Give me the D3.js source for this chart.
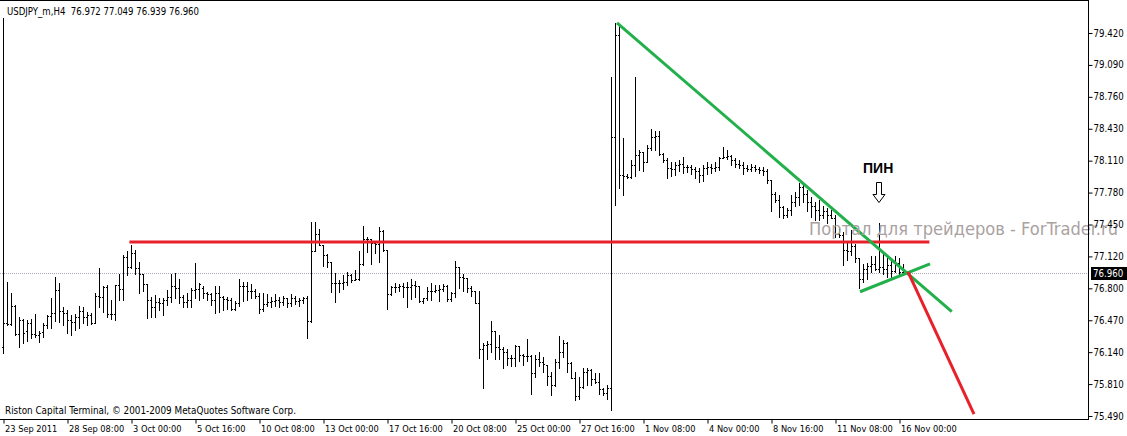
<!DOCTYPE html>
<html><head><meta charset="utf-8">
<script src="https://cdn.jsdelivr.net/npm/d3@7/dist/d3.min.js"></script>
<style>body{margin:0;background:#fff}svg{display:block}</style>
</head><body>
<svg id="chart" width="1127" height="436"></svg>
<script>
const titleText = "USDJPY_m,H4  76.972 77.049 76.939 76.960";
const copyrightText = "Riston Capital Terminal, \u00A9 2001-2009 MetaQuotes Software Corp.";
const watermarkText = "Портал для трейдеров - ForTrader.ru";
const pinText = "ПИН";

const openP = [76.20,76.44,76.43,76.62,76.33,76.47,76.36,76.44,76.33,76.32,76.35,76.42,76.52,76.55,76.78,76.57,76.55,76.47,76.45,76.51,
76.57,76.51,76.53,76.44,76.72,76.71,76.81,76.54,76.54,76.83,76.79,77.12,77.02,77.16,77.01,76.95,76.84,76.68,76.61,76.66,
76.65,76.68,76.71,76.82,76.80,76.71,76.66,76.68,76.78,76.79,76.80,76.75,76.74,76.68,76.75,76.71,76.69,76.68,76.59,76.65,
76.82,76.82,76.77,76.77,76.72,76.59,76.64,76.66,76.67,76.68,76.66,76.70,76.65,76.70,76.67,76.68,76.70,76.46,77.18,77.36,
77.24,77.14,77.07,76.85,76.85,76.85,76.87,76.94,76.89,76.90,77.05,77.31,77.31,77.27,77.26,77.39,77.19,76.74,76.81,76.81,
76.82,76.81,76.81,76.83,76.82,76.67,76.70,76.77,76.77,76.78,76.79,76.82,76.69,76.75,77.02,76.92,76.91,76.80,76.77,76.65,
76.18,76.22,76.23,76.36,76.20,76.18,76.15,76.09,76.09,76.21,76.12,76.11,76.11,75.93,76.08,76.04,76.01,75.90,75.81,76.04,
76.15,76.24,76.03,75.88,75.70,75.79,75.94,75.96,75.87,75.84,75.77,75.73,75.78,78.35,79.40,77.96,77.95,77.94,78.07,78.17,
78.20,78.10,78.24,78.35,78.36,78.18,78.12,78.03,78.02,78.07,78.08,78.05,78.04,78.02,78.00,77.96,78.03,78.05,78.03,78.04,
78.14,78.15,78.16,78.12,78.08,78.07,78.03,78.02,78.05,78.02,78.01,78.00,77.91,77.77,77.71,77.63,77.55,77.60,77.69,77.74,
77.84,77.77,77.69,77.64,77.60,77.55,77.59,77.55,77.52,77.36,77.35,77.19,77.18,77.23,77.11,76.90,77.00,77.03,77.05,77.00,
77.02,77.00,77.04,76.98,77.06,76.972];
const highP = [79.57,76.87,76.75,76.63,76.51,76.49,76.47,76.49,76.54,76.36,76.44,76.53,76.70,76.92,76.85,76.61,76.58,76.53,76.54,76.62,
76.61,76.56,76.55,76.75,77.01,76.82,76.83,76.68,76.83,76.95,77.14,77.18,77.24,77.19,77.07,76.95,76.84,76.71,76.73,76.70,
76.70,76.78,76.95,76.96,76.90,76.73,76.75,76.80,77.06,76.85,76.82,76.76,76.75,76.82,76.82,76.72,76.71,76.70,76.67,76.90,
76.87,76.87,76.84,76.79,76.75,76.75,76.74,76.71,76.74,76.71,76.72,76.70,76.74,76.72,76.70,76.71,76.72,77.48,77.48,77.41,
77.24,77.15,77.07,76.96,76.89,76.94,76.97,76.95,76.99,77.18,77.44,77.33,77.31,77.28,77.43,77.40,77.19,76.82,76.85,76.84,
76.85,76.86,76.90,76.88,76.82,76.70,76.81,76.85,76.83,76.83,76.84,76.83,76.76,77.08,77.02,76.95,76.91,76.82,76.77,76.77,
76.24,76.26,76.46,76.36,76.32,76.20,76.18,76.12,76.22,76.21,76.13,76.28,76.12,76.12,76.15,76.10,76.01,75.94,76.08,76.31,
76.27,76.25,76.04,75.94,75.89,75.98,75.98,75.97,75.93,75.93,75.78,75.81,78.97,79.52,79.50,78.34,77.97,78.12,78.97,78.22,
78.20,78.27,78.44,78.41,78.41,78.19,78.14,78.10,78.10,78.12,78.15,78.07,78.07,78.05,78.03,78.07,78.10,78.08,78.10,78.15,
78.25,78.22,78.17,78.14,78.12,78.10,78.07,78.08,78.07,78.05,78.05,78.02,77.91,77.79,77.76,77.64,77.62,77.76,77.79,77.88,
77.86,77.81,77.74,77.69,77.71,77.64,77.62,77.60,77.55,77.43,77.38,77.28,77.40,77.25,77.11,77.05,77.06,77.13,77.13,77.47,
77.16,77.11,77.09,77.13,77.11,77.049];
const lowP = [76.14,76.42,76.42,76.32,76.20,76.24,76.26,76.29,76.30,76.25,76.30,76.39,76.39,76.46,76.45,76.42,76.34,76.32,76.37,76.39,
76.44,76.42,76.43,76.44,76.61,76.56,76.51,76.49,76.47,76.68,76.68,76.94,77.01,76.95,76.75,76.77,76.50,76.51,76.51,76.58,
76.53,76.63,76.66,76.70,76.65,76.61,76.61,76.61,76.70,76.68,76.70,76.68,76.63,76.55,76.56,76.58,76.59,76.58,76.58,76.62,
76.67,76.68,76.70,76.70,76.55,76.57,76.62,76.61,76.62,76.61,76.63,76.61,76.62,76.64,76.62,76.65,76.29,76.45,77.18,77.24,
77.03,77.02,76.76,76.66,76.76,76.79,76.83,76.87,76.89,76.89,77.04,77.17,77.05,77.16,77.07,77.18,76.59,76.73,76.76,76.77,
76.71,76.61,76.69,76.71,76.66,76.65,76.68,76.68,76.76,76.67,76.77,76.67,76.67,76.71,76.80,76.77,76.76,76.72,76.65,76.09,
75.78,76.07,76.15,76.07,76.07,75.98,76.01,76.00,76.00,76.05,76.01,76.05,75.72,75.89,76.00,75.94,75.81,75.71,75.80,75.98,
76.10,75.94,75.88,75.65,75.66,75.78,75.81,75.81,75.83,75.72,75.71,75.66,75.55,77.66,77.83,77.76,77.93,77.93,77.95,78.01,
78.00,78.10,78.22,78.22,78.17,78.10,77.93,77.95,77.96,78.00,77.98,77.99,77.97,77.93,77.89,77.90,77.97,77.98,78.00,78.01,
78.14,78.13,78.07,78.05,78.03,77.97,78.00,78.00,78.00,77.98,77.96,77.88,77.59,77.69,77.53,77.52,77.53,77.55,77.64,77.66,
77.69,77.59,77.53,77.50,77.50,77.52,77.47,77.52,77.33,77.33,77.04,77.09,77.14,77.07,76.80,76.87,76.90,76.97,76.99,76.97,
76.95,76.92,76.92,76.97,76.95,76.939];
const closeP = [76.44,76.43,76.62,76.33,76.47,76.34,76.44,76.33,76.32,76.34,76.42,76.52,76.55,76.78,76.57,76.55,76.47,76.45,76.51,76.57,
76.51,76.53,76.44,76.72,76.71,76.81,76.54,76.54,76.83,76.79,77.12,77.02,77.16,77.01,76.95,76.84,76.68,76.61,76.66,76.65,
76.68,76.71,76.82,76.80,76.71,76.66,76.68,76.78,76.79,76.84,76.75,76.74,76.68,76.75,76.71,76.69,76.68,76.59,76.65,76.82,
76.82,76.77,76.77,76.72,76.59,76.64,76.66,76.67,76.68,76.66,76.70,76.65,76.70,76.67,76.68,76.70,76.46,77.18,77.36,77.24,
77.14,77.07,76.85,76.85,76.85,76.87,76.94,76.89,76.90,77.05,77.31,77.31,77.27,77.26,77.39,77.19,76.74,76.81,76.81,76.82,
76.81,76.81,76.83,76.82,76.67,76.70,76.77,76.77,76.78,76.79,76.82,76.69,76.75,77.02,76.92,76.91,76.80,76.77,76.65,76.18,
76.22,76.23,76.36,76.20,76.18,76.15,76.09,76.09,76.21,76.12,76.11,76.11,75.93,76.08,76.04,76.02,75.90,75.81,76.04,76.15,
76.24,76.03,75.88,75.70,75.79,75.94,75.96,75.87,75.84,75.77,75.73,75.78,78.35,79.40,77.96,77.95,77.94,78.07,78.17,78.20,
78.10,78.24,78.35,78.36,78.18,78.12,78.03,78.02,78.07,78.08,78.05,78.04,78.02,78.00,77.96,78.03,78.05,78.03,78.04,78.14,
78.15,78.16,78.12,78.08,78.07,78.03,78.02,78.05,78.02,78.01,78.00,77.91,77.77,77.71,77.63,77.55,77.60,77.69,77.74,77.84,
77.77,77.69,77.64,77.60,77.55,77.59,77.55,77.52,77.36,77.35,77.19,77.18,77.23,77.11,76.90,77.00,77.03,77.05,77.00,77.02,
77.00,77.04,76.98,77.06,76.97,76.960];

const xTickIndex = [0,16,32,48,64,80,96,112,128,144,160,176,192,208,224];
const xTickLabels = ["23 Sep 2011","28 Sep 08:00","3 Oct 00:00","5 Oct 16:00","10 Oct 08:00","13 Oct 00:00","17 Oct 16:00",
  "20 Oct 08:00","25 Oct 00:00","27 Oct 16:00","1 Nov 08:00","4 Nov 00:00","8 Nov 16:00","11 Nov 08:00","16 Nov 00:00"];
const yTickValues = [75.49,75.8175,76.145,76.4725,76.80,77.1275,77.455,77.7825,78.11,78.4375,78.765,79.0925,79.42];
const yTickLabels = ["75.490","75.810","76.140","76.470","76.800","77.120","77.450","77.780","78.110","78.430","78.760","79.090","79.420"];
const lastPrice = 76.960;

// drawn objects: [bar index, price] pairs
const resistanceLine = [[31.6,77.275],[231.6,77.275]];
const trendDown = [[153.5,79.525],[237.2,76.56]];
const trendUp = [[214.25,76.765],[231.75,77.05]];
const forecastLine = [[226.25,76.968],[242.75,75.51]];
const pinAt = [219, 77.95];

const W = 1127, H = 436, plotR = 1088, plotB = 419;
const svg = d3.select("#chart");
const x = d3.scaleLinear().domain([0, 271.25]).range([3, plotR]);
const y = d3.scaleLinear().domain([75.49, 79.42]).range([416, 33]);
const font = "'DejaVu Sans Condensed','DejaVu Sans',sans-serif";

svg.append("rect").attr("width", W).attr("height", H).attr("fill", "#fff");

// current price dotted line
svg.append("line").attr("x1", 0).attr("x2", plotR).attr("y1", Math.round(y(lastPrice)) + 0.5).attr("y2", Math.round(y(lastPrice)) + 0.5)
  .attr("stroke", "#a8a8b4").attr("stroke-dasharray", "1,1");

// bars
const bars = svg.append("g").attr("shape-rendering", "crispEdges").attr("fill", "#000");
d3.range(openP.length).forEach(i => {
  const xi = Math.round(x(i));
  const yh = Math.round(y(highP[i])), yl = Math.round(y(lowP[i]));
  bars.append("rect").attr("x", xi).attr("y", yh).attr("width", 1).attr("height", Math.max(1, yl - yh + 1));
  bars.append("rect").attr("x", xi - 1).attr("y", Math.round(y(openP[i]))).attr("width", 1).attr("height", 1);
  bars.append("rect").attr("x", xi + 1).attr("y", Math.round(y(closeP[i]))).attr("width", 1).attr("height", 1);
});

// drawn lines
function seg(pts, color) {
  svg.append("line").attr("x1", x(pts[0][0])).attr("y1", y(pts[0][1])).attr("x2", x(pts[1][0])).attr("y2", y(pts[1][1]))
    .attr("stroke", color).attr("stroke-width", 3);
}
seg(resistanceLine, "#e8202a");
seg(trendDown, "#22b04a");
seg(trendUp, "#22b04a");
seg(forecastLine, "#e8202a");

// pin label and arrow
const px = x(pinAt[0]);
svg.append("text").attr("x", px - 16).attr("y", 173).attr("font-family", "'Liberation Sans',Arial,sans-serif")
  .attr("font-weight", "bold").attr("font-size", 14).attr("fill", "#000").text(pinText);
svg.append("path").attr("d", `M${px-2.5},182.5 h5 v12 h3.5 l-6,8 l-6,-8 h3.5 z`)
  .attr("fill", "#fff").attr("stroke", "#000").attr("stroke-width", 1);

// watermark
svg.append("text").attr("x", 809).attr("y", 235).attr("font-family", font).attr("font-size", 18)
  .attr("fill", "#aaa2a2").attr("textLength", 309).attr("lengthAdjust", "spacingAndGlyphs").text(watermarkText);

// frame
svg.append("g").attr("shape-rendering", "crispEdges").call(g => {
  g.append("line").attr("x1", plotR + 0.5).attr("x2", plotR + 0.5).attr("y1", 0).attr("y2", plotB + 0.5).attr("stroke", "#000");
  g.append("line").attr("x1", 0).attr("x2", plotR + 0.5).attr("y1", plotB + 0.5).attr("y2", plotB + 0.5).attr("stroke", "#000");
  g.append("line").attr("x1", 0).attr("x2", plotR + 0.5).attr("y1", 0.5).attr("y2", 0.5).attr("stroke", "#000");
});

// y axis
const yAxis = d3.axisRight(y).tickValues(yTickValues).tickSize(4).tickPadding(1)
  .tickFormat((d, i) => yTickLabels[i]);
const ya = svg.append("g").attr("transform", `translate(${plotR + 0.5},0)`).call(yAxis);
ya.select(".domain").remove();
ya.selectAll("text").attr("font-family", font).attr("font-size", 9.6).attr("fill", "#000");
ya.selectAll("line").attr("stroke", "#000");

// x axis
const xAxis = d3.axisBottom(x).tickValues(xTickIndex).tickSize(4).tickFormat((d, i) => xTickLabels[i]);
const xa = svg.append("g").attr("transform", `translate(0.5,${plotB + 0.5})`).call(xAxis);
xa.select(".domain").remove();
xa.selectAll("line").attr("stroke", "#000");
xa.selectAll("text").attr("font-family", font).attr("font-size", 9.2).attr("fill", "#000")
  .attr("text-anchor", "start").attr("dx", 1).attr("dy", 0).attr("y", 12);

// current price label
const yc = y(lastPrice);
svg.append("rect").attr("x", plotR + 3).attr("y", Math.round(yc) - 6).attr("width", W - plotR - 3).attr("height", 13).attr("fill", "#000");
svg.append("text").attr("x", plotR + 5).attr("y", Math.round(yc) + 4).attr("font-family", font).attr("font-size", 9.6)
  .attr("fill", "#fff").text(lastPrice.toFixed(3));

// texts (title drawn on an opaque strip, as in the terminal)
svg.append("rect").attr("x", 1).attr("y", 1).attr("width", 200).attr("height", 17).attr("fill", "#fff");
svg.append("text").attr("x", 7).attr("y", 15).attr("font-family", font).attr("font-size", 10.2).attr("fill", "#000")
  .attr("xml:space", "preserve").attr("textLength", 192).attr("lengthAdjust", "spacingAndGlyphs").text(titleText);
svg.append("text").attr("x", 5).attr("y", 414).attr("font-family", font).attr("font-size", 10).attr("fill", "#000")
  .attr("textLength", 291).attr("lengthAdjust", "spacingAndGlyphs").text(copyrightText);
</script>
</body></html>
